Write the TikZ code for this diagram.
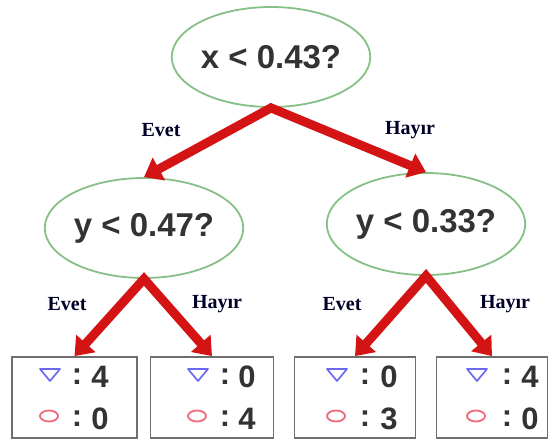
\documentclass[tikz,border=0pt]{standalone}
\usepackage{fontspec}
\setmainfont{Liberation Sans}
\newfontfamily\lblfont{Liberation Serif}
\usetikzlibrary{shapes.geometric,arrows.meta}
\definecolor{egreen}{HTML}{86C086}
\definecolor{arrred}{HTML}{D41414}
\definecolor{txtgray}{HTML}{333333}
\definecolor{boxgray}{HTML}{6E6E6E}
\definecolor{triblue}{HTML}{6A6AF0}
\definecolor{circred}{HTML}{EE7080}
\tikzset{
  qnode/.style={ellipse, draw=egreen, line width=1.8pt, fill=white, inner sep=0pt,
    font=\fontsize{33}{33}\selectfont\bfseries, text=txtgray},
  leaf/.style={rectangle, draw=boxgray, line width=1.8pt, fill=white, inner sep=0pt},
  redarrow/.style={draw=arrred, line width=9pt, line join=miter,
    {Triangle[width=25pt,length=17pt]}-{Triangle[width=25pt,length=17pt]}},
  lbl/.style={font=\lblfont\fontsize{20}{20}\selectfont\bfseries, text=black!85!blue},
  cnt/.style={font=\fontsize{31}{31}\selectfont\bfseries, text=txtgray, inner sep=0pt},
  tri/.style={draw=triblue, line width=1.7pt, line join=round},
  circ/.style={draw=circred, line width=1.9pt}
}
\begin{document}
\begin{tikzpicture}[x=1pt,y=-1pt]
\useasboundingbox (0,0) rectangle (549,441);
% question nodes
\node[qnode, minimum width=186pt, minimum height=100pt] (root) at (271,57) {x < 0.43?};
\node[qnode, minimum width=195pt, minimum height=100pt] (l) at (144,228) {y < 0.47?};
\node[qnode, minimum width=197pt, minimum height=102pt] (r) at (426,224) {y < 0.33?};
% leaves
\node[leaf, minimum width=125pt, minimum height=81pt] (ll) at (74.5,397.5) {};
\node[leaf, minimum width=123pt, minimum height=81pt] (lr) at (212,397.5) {};
\node[leaf, minimum width=121pt, minimum height=81pt] (rl) at (355,397.5) {};
\node[leaf, minimum width=111pt, minimum height=81pt] (rr) at (492,397.5) {};
% arrows
\draw[redarrow] (l.north) -- (root.south) -- (r.north);
\draw[redarrow] (ll.north) -- (l.south) -- (lr.north);
\draw[redarrow] (rl.north) -- (r.south) -- (rr.north);
% labels
\node[lbl] (e1) at (161,130) {Evet};
\node[lbl] (h1) at (410,130) {Hayır};
\node[lbl] (e2) at (67,304) {Evet};
\node[lbl] (h2) at (217,304) {Hayır};
\node[lbl] (e3) at (342,304) {Evet};
\node[lbl] (h3) at (505,304) {Hayır};
% leaf contents
\foreach \tx/\cx/\nx/\top/\bot [count=\i] in {50/77/100/4/0, 198/225/247/0/4, 337/365/389/0/3, 477/507/530/4/0}{
  \draw[tri] (\tx-10,369) -- (\tx+10,369) -- (\tx,381) -- cycle;
  \draw[circ] (\tx-1,416) ellipse (9pt and 5.5pt);
  \node[cnt] (c\i a) at (\cx,377) {:};
  \node[cnt] (n\i a) at (\nx,377) {\top};
  \node[cnt] (c\i b) at (\cx,419) {:};
  \node[cnt] (n\i b) at (\nx,419) {\bot};
}
\end{tikzpicture}
\end{document}
